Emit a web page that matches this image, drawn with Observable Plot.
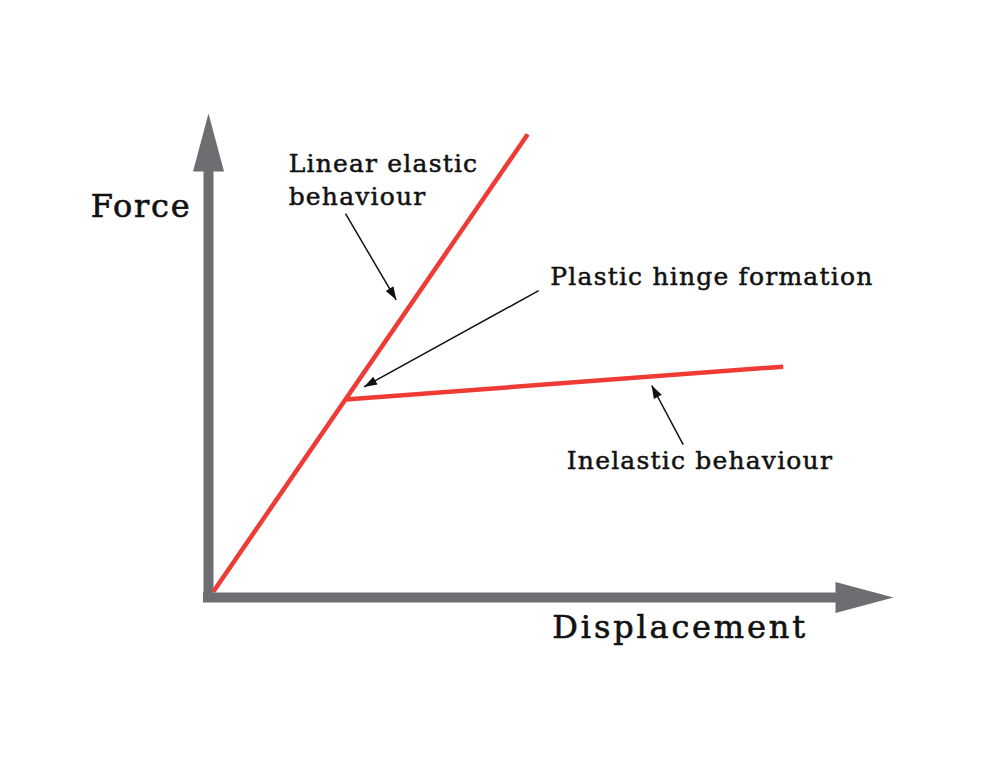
<!DOCTYPE html>
<html>
<head>
<meta charset="utf-8">
<script src="https://cdn.jsdelivr.net/npm/d3@7"></script>
<script src="https://cdn.jsdelivr.net/npm/@observablehq/plot@0.6"></script>
<style>
  html, body { margin: 0; padding: 0; background: #ffffff; }
  #chart svg { display: block; }
</style>
</head>
<body>
<div id="chart"></div>
<script>
// ---- Data (displacement / force in arbitrary units, axes run 0..10) ----
const curveSeries = ["Linear elastic", "Linear elastic", "Inelastic", "Inelastic"];
const curveDisplacement = [0.07, 4.66, 2.0, 8.39];
const curveForce = [0.12, 9.57, 4.09, 4.77];

const axisTitles = ["Force", "Displacement"];
const axisTitleX = [-1.72, 5.02];
const axisTitleY = [7.87, -0.83];

const noteTexts = ["Linear elastic\nbehaviour", "Plastic hinge formation", "Inelastic behaviour"];
const noteX = [1.17, 4.99, 5.23];
const noteY = [8.10, 6.45, 2.66];

const arrowFromX = [2.00, 4.82, 6.93];
const arrowFromY = [7.93, 6.34, 3.16];
const arrowToX = [2.74, 2.27, 6.47];
const arrowToY = [6.15, 4.35, 4.38];

const axisMax = 10;

// ---- Build tables ----
const curve = curveSeries.map((s, i) => ({series: s, x: curveDisplacement[i], y: curveForce[i]}));
const titles = axisTitles.map((t, i) => ({text: t, x: axisTitleX[i], y: axisTitleY[i]}));
const notes = noteTexts.map((t, i) => ({text: t, x: noteX[i], y: noteY[i]}));

const xDomain = [0, axisMax], xRange = [208, 893];
const yDomain = [0, axisMax], yRange = [597, 113];
const xs = d3.scaleLinear(xDomain, xRange);
const ys = d3.scaleLinear(yDomain, yRange);

const arrows = arrowFromX.map((_, i) => {
  const dx = xs(arrowToX[i]) - xs(arrowFromX[i]);
  const dy = ys(arrowToY[i]) - ys(arrowFromY[i]);
  return {
    x1: arrowFromX[i], y1: arrowFromY[i], x2: arrowToX[i], y2: arrowToY[i],
    angle: Math.atan2(dx, -dy) * 180 / Math.PI
  };
});

// arrowhead symbols: tip at origin, pointing up
const headSymbol = (len, hw) => ({
  draw(ctx) { ctx.moveTo(0, 0); ctx.lineTo(hw, len); ctx.lineTo(-hw, len); ctx.closePath(); }
});

const GRAY = "#6d6e72";
const RED = "#ef3b35";
const INK = "#111111";

const axisHeads = [{x: 0, y: axisMax, angle: 0}, {x: axisMax, y: 0, angle: 90}];

const chart = Plot.plot({
  width: 1000,
  height: 766,
  margin: 0,
  x: {domain: xDomain, range: xRange, axis: null},
  y: {domain: yDomain, range: yRange, axis: null},
  style: {background: "#ffffff", overflow: "visible"},
  marks: [
    // axis shafts
    Plot.ruleX([0], {y1: 0, y2: axisMax * 0.9, stroke: GRAY, strokeWidth: 10, strokeLinecap: "square"}),
    Plot.ruleY([0], {x1: 0, x2: axisMax * 0.92, stroke: GRAY, strokeWidth: 10, strokeLinecap: "square"}),
    // axis arrowheads
    Plot.dot(axisHeads, {x: "x", y: "y", rotate: "angle", symbol: headSymbol(58, 15.5), fill: GRAY, stroke: "none"}),
    // force–displacement curve
    Plot.line(curve, {x: "x", y: "y", z: "series", stroke: RED, strokeWidth: 4.5, strokeLinecap: "butt"}),
    // annotation arrows
    Plot.link(arrows, {x1: "x1", y1: "y1", x2: "x2", y2: "y2", stroke: INK, strokeWidth: 1.5}),
    Plot.dot(arrows, {x: "x2", y: "y2", rotate: "angle", symbol: headSymbol(13, 4.5), fill: INK, stroke: "none"}),
    // axis titles
    Plot.text(titles, {x: "x", y: "y", text: "text", textAnchor: "start", lineAnchor: "bottom",
      fontFamily: "DejaVu Serif", fontSize: 32, fill: INK, stroke: INK, strokeWidth: 0.6}),
    // annotations
    Plot.text(notes, {x: "x", y: "y", text: "text", textAnchor: "start", lineAnchor: "bottom",
      fontFamily: "DejaVu Serif", fontSize: 25, lineHeight: 1.32, fill: INK, stroke: INK, strokeWidth: 0.5})
  ]
});
document.getElementById("chart").appendChild(chart);

// widen tracking to match the reference's broad typeface
const titleSpacing = [0.055, 0.088];
const noteSpacing = 0.048;
const textGroups = d3.select(chart).selectAll('g[aria-label="text"]').nodes();
d3.select(textGroups[0]).selectAll("text").each(function(_, i) {
  this.style.letterSpacing = titleSpacing[i] + "em";
});
d3.select(textGroups[1]).selectAll("text").style("letter-spacing", noteSpacing + "em");
</script>
</body>
</html>
